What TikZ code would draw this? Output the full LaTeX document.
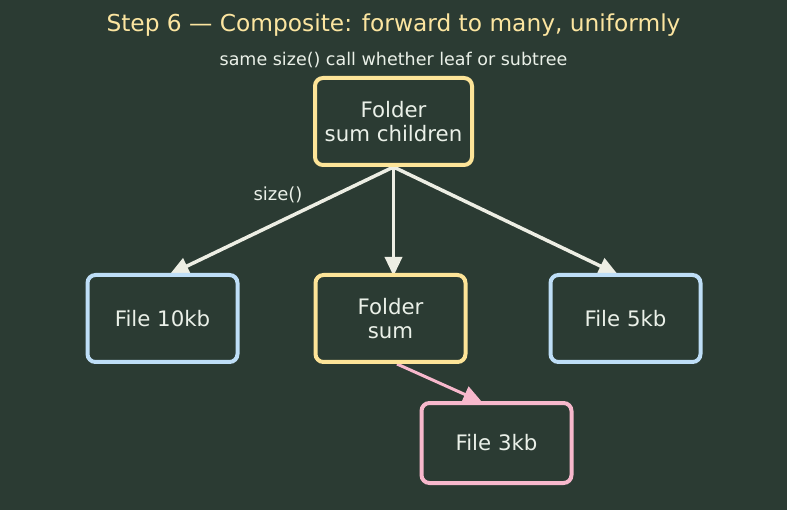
\documentclass[tikz,border=0pt]{standalone}
\usepackage{fontspec}
\setmainfont{DejaVu Sans}
\usetikzlibrary{arrows.meta,positioning,calc}
\definecolor{myBg}{RGB}{43,59,51}
\definecolor{myTitle}{RGB}{252,229,160}
\definecolor{myText}{RGB}{234,240,232}
\definecolor{myYellow}{RGB}{253,228,152}
\definecolor{myBlue}{RGB}{190,222,247}
\definecolor{myPink}{RGB}{247,184,204}
\definecolor{myArrow}{RGB}{237,238,228}
\pgfdeclarelayer{back}
\pgfsetlayers{back,main}
\tikzset{
	cbox/.style={
		draw,
		line width=4pt,
		rounded corners=8pt,
		fill=myBg,
		text=myText,
		align=center,
		minimum width=150pt,
		minimum height=87pt,
		font=\fontsize{21.3}{24}\selectfont
	},
	carr/.style={-{Triangle[length=19pt,width=17pt]}, line width=3.5pt, myArrow, shorten >=-3pt}
}
\begin{document}
\begin{tikzpicture}[x=1pt, y=-1pt]
		\useasboundingbox (0,0) rectangle (787,510);
		\node[font=\fontsize{23.3}{27}\selectfont, text=myTitle, anchor=base] (title) at (393.5,32) {Step 6 — Composite: forward to many, uniformly};
		\node[font=\fontsize{17.5}{21}\selectfont, text=myText, anchor=base] (subtitle) at (393.5,66) {same size() call whether leaf or subtree};
		\node[cbox, draw=myYellow, minimum width=157pt] (root) at (393.5,121.5) {Folder\\sum children};
		\node[cbox, draw=myBlue] (fileten) at (162.5,318.5) {File 10kb};
		\node[cbox, draw=myYellow] (subfolder) at (390.5,318.5) {Folder\\sum};
		\node[cbox, draw=myBlue] (filefive) at (625.5,318.5) {File 5kb};
		\node[cbox, draw=myPink, minimum height=80pt] (filethree) at (496.5,443) {File 3kb};
		\node[font=\fontsize{18}{21}\selectfont, text=myText, anchor=base] (calllabel) at (278,201) {size()};
		\begin{pgfonlayer}{back}
			\fill[myBg] (0,0) rectangle (787,510);
			\draw[carr] (root.south) -- ([xshift=10pt]fileten.north);
			\draw[carr] (root.south) -- (root.south |- subfolder.north);
			\draw[carr] (root.south) -- ([xshift=-10.5pt]filefive.north);
			\draw[carr, myPink, line width=3pt] ([xshift=6.5pt]subfolder.south) -- ([xshift=-17pt]filethree.north);
		\end{pgfonlayer}
	\end{tikzpicture}
\end{document}
